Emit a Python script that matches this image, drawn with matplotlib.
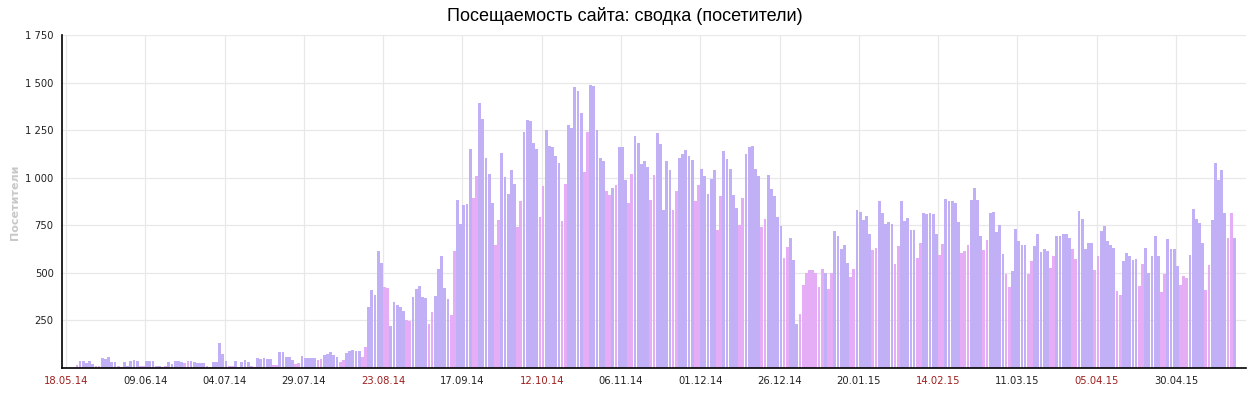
import matplotlib
matplotlib.use("Agg")
import matplotlib.pyplot as plt
import pandas as pd
import numpy as np

# ---------------- data ----------------
start_date = "2014-05-18"          # first day with data
axis_origin = "2014-05-15"         # category 0 of the axis
visitors = [
    17, 37, 36, 24, 36, 20, 12, 10, 52, 45, 57, 33, 30, 12, 5, 33, 12, 38, 43, 35,
    12, 10, 37, 37, 35, 12, 10, 5, 10, 33, 22, 37, 35, 30, 28, 39, 39, 33, 26, 26,
    26, 9, 5, 33, 33, 130, 74, 39, 12, 12, 39, 3, 33, 44, 30, 12, 7, 53, 47, 51,
    46, 46, 18, 18, 86, 86, 60, 60, 44, 21, 25, 61, 53, 53, 53, 50, 42, 45, 67, 74,
    82, 70, 60, 30, 42, 79, 91, 96, 88, 88, 60, 109, 323, 410, 384, 617, 552, 428, 423, 223,
    349, 331, 320, 302, 254, 249, 375, 416, 433, 375, 367, 232, 296, 381, 518, 586, 420, 364, 280, 613,
    881, 755, 855, 860, 1150, 893, 1007, 1394, 1311, 1106, 1017, 869, 645, 776, 1130, 1004, 913, 1039, 969, 741,
    876, 1241, 1302, 1297, 1180, 1153, 794, 955, 1250, 1166, 1162, 1113, 1078, 772, 966, 1276, 1262, 1478, 1457, 1341,
    1030, 1241, 1487, 1481, 1250, 1101, 1090, 930, 907, 948, 964, 1162, 1159, 986, 867, 1018, 1218, 1183, 1071, 1086,
    1057, 881, 1016, 1234, 1177, 829, 1089, 1039, 829, 929, 1101, 1127, 1148, 1113, 1095, 876, 960, 1048, 1008, 917,
    992, 1043, 724, 902, 1139, 1097, 1045, 908, 843, 750, 893, 1127, 1162, 1167, 1045, 1008, 741, 782, 1013, 940,
    902, 794, 745, 578, 636, 685, 566, 229, 285, 434, 500, 513, 513, 499, 425, 518, 501, 416, 501, 718,
    692, 624, 648, 553, 478, 522, 832, 820, 780, 797, 702, 618, 632, 876, 815, 759, 766, 755, 548, 639,
    876, 773, 790, 724, 727, 578, 657, 815, 811, 815, 811, 706, 592, 653, 887, 880, 876, 869, 767, 604,
    615, 648, 881, 948, 881, 692, 618, 671, 815, 820, 715, 750, 597, 496, 425, 508, 729, 667, 648, 648,
    492, 560, 641, 702, 610, 627, 615, 525, 587, 692, 692, 706, 706, 685, 627, 571, 823, 785, 624, 659,
    659, 513, 587, 718, 745, 667, 645, 631, 404, 385, 562, 606, 589, 569, 575, 429, 548, 632, 499, 587,
    692, 587, 402, 496, 676, 624, 624, 534, 434, 482, 472, 592, 833, 784, 761, 656, 412, 539, 776, 1077,
    989, 1042, 814, 683, 814, 683,
]
holidays = ["2014-06-12", "2014-11-04", "2015-01-01", "2015-01-02", "2015-01-03",
            "2015-01-04", "2015-01-05", "2015-01-06", "2015-01-07", "2015-01-08",
            "2015-02-23", "2015-03-08", "2015-05-01", "2015-05-09"]
tick_labels = ["18.05.14", "09.06.14", "04.07.14", "29.07.14", "23.08.14", "17.09.14",
               "12.10.14", "06.11.14", "01.12.14", "26.12.14", "20.01.15", "14.02.15",
               "11.03.15", "05.04.15", "30.04.15"]
tick_step = 25
yticks = [250, 500, 750, 1000, 1250, 1500, 1750]
title = "Посещаемость сайта: сводка (посетители)"
ylabel = "Посетители"

# ---------------- derived ----------------
dates = pd.date_range(start_date, periods=len(visitors), freq="D")
pos = (dates - pd.Timestamp(axis_origin)).days.values
hol = pd.to_datetime(holidays)
off = (dates.dayofweek >= 5) | dates.isin(hol)

C_WORK = "#c2b0f6"
C_OFF = "#e4adf6"
colors = [C_OFF if o else C_WORK for o in off]

tick_pos = [i * tick_step for i in range(len(tick_labels))]
tick_dates = [pd.Timestamp(start_date)] + [pd.Timestamp(axis_origin) + pd.Timedelta(days=p) for p in tick_pos[1:]]
tick_colors = ["#a01e1e" if d.dayofweek >= 5 else "#222222" for d in tick_dates]

# ---------------- figure ----------------
W, H = 1257, 393
fig = plt.figure(figsize=(W / 100, H / 100), dpi=100)
ax = fig.add_axes([62 / W, 1 - 368 / H, (1246 - 62) / W, (368 - 35) / H])

ax.bar(pos, visitors, width=0.88, align="edge", color=colors, linewidth=0, zorder=2)

ax.set_xlim(-1.26, 372.1)
ax.set_ylim(0, 1750)
ax.set_yticks(yticks)
ax.set_yticklabels([f"{v:,}".replace(",", " ") for v in yticks])
ax.set_xticks(tick_pos)
ax.set_xticklabels(tick_labels)

ax.tick_params(axis="both", length=0, labelsize=7.2, colors="#222222")
ax.tick_params(axis="x", pad=6)
ax.tick_params(axis="y", pad=6)
for lbl, c in zip(ax.get_xticklabels(), tick_colors):
    lbl.set_color(c)

ax.grid(True, color="#e8e8e8", linewidth=0.9, zorder=0)
ax.set_axisbelow(True)
for s in ["top", "right"]:
    ax.spines[s].set_visible(False)
ax.spines["left"].set_color("black")
ax.spines["bottom"].set_color("black")
ax.spines["left"].set_linewidth(1.2)
ax.spines["bottom"].set_linewidth(1.2)

fig.text(15 / W, 1 - 202 / H, ylabel, rotation=90, ha="center", va="center",
         fontsize=8, fontweight="bold", color="#c8c8c8", family="DejaVu Sans")
fig.text(625 / W, 1 - 16 / H, title, ha="center", va="center",
         fontsize=13, color="black", family="Liberation Sans")

fig.savefig("out.png", dpi=100)
